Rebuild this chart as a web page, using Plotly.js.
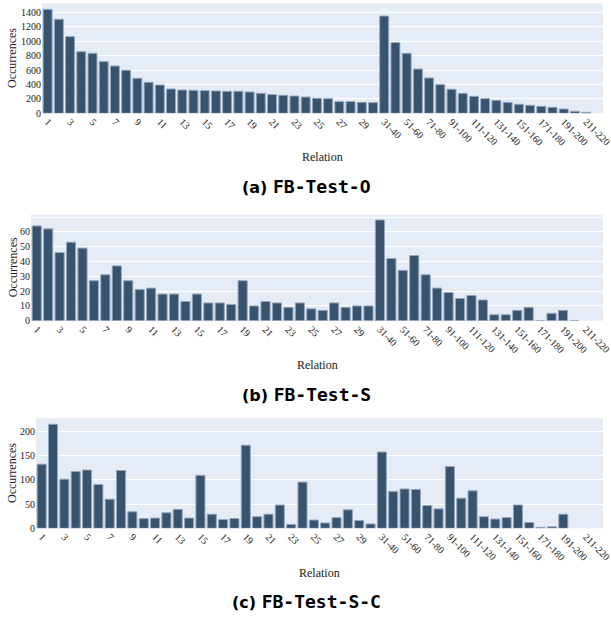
<!DOCTYPE html>
<html>
<head>
<meta charset="utf-8">
<script src="https://cdn.plot.ly/plotly-3.0.1.min.js"></script>
<style>
  html, body { margin: 0; padding: 0; background: #fff; }
  #chart { width: 611px; height: 620px; }
</style>
</head>
<body>
<div id="chart"></div>
<script>
// Relation categories (single relations 1..30, then ranges)
const categories = [
  '1','2','3','4','5','6','7','8','9','10',
  '11','12','13','14','15','16','17','18','19','20',
  '21','22','23','24','25','26','27','28','29','30',
  '31-40','41-50','51-60','61-70','71-80','81-90','91-100','101-110','111-120','121-130',
  '131-140','141-150','151-160','161-170','171-180','181-190','191-200','201-210','211-220','221-230'
];

// (a) FB-Test-O
const occurrencesO = [
  1441,1303,1063,855,832,716,656,596,485,430,
  393,337,323,319,314,310,305,305,296,277,
  259,250,240,226,208,203,162,162,152,148,
  1349,980,832,614,490,397,333,277,236,203,
  180,152,125,111,97,83,60,28,14,null
];

// (b) FB-Test-S
const occurrencesS = [
  64,62,46,53,49,27,31,37,27,21,
  22,18,18,13,18,12,12,11,27,10,
  13,12,9,12,8,7,12,9,10,10,
  68,42,34,44,31,22,19,15,17,14,
  4,4,7,9,0,5,7,0,null,null
];

// (c) FB-Test-S-C
const occurrencesSC = [
  132,214,101,117,120,90,60,119,34,20,
  21,32,39,21,109,29,18,20,171,24,
  29,48,8,95,17,11,22,38,16,9,
  157,76,81,80,47,40,127,62,77,24,
  19,22,48,12,2,3,29,null,null,null
];

const tickLabels = categories.filter((c, i) => i % 2 === 0);

// y tick values / labels per panel
const yTicksO = [0, 200, 400, 600, 800, 1000, 1200, 1400];
const yTextO  = ['0', '200', '400', '600', '800', '1000', '1200', '1400'];
const yTicksS = [0, 10, 20, 30, 40, 50, 60, 70];
const yTextS  = ['0', '10', '20', '30', '40', '50', '60', ''];
const yTicksSC = [0, 50, 100, 150, 200];
const yTextSC  = ['0', '50', '100', '150', '200'];

const yTitle = 'Occurrences';
const xTitle = 'Relation';
const captionLetters = ['(a)', '(b)', '(c)'];
const captionNames = ['FB-Test-O', 'FB-Test-S', 'FB-Test-S-C'];

const W = 611, H = 620;
const serif = 'Liberation Serif, Times New Roman, serif';
const barColor = 'rgb(55,83,109)';
const lineColor = 'rgb(150,167,189)';

// panel geometry in pixels
const panels = [
  {left: 42, right: 603, top: 3.3, bottom: 113.3, range: [0, 1525], tv: yTicksO, tt: yTextO, data: occurrencesO, titleY: 157, capY: 186},
  {left: 31, right: 603, top: 214.5, bottom: 320.7, range: [0, 71.7], tv: yTicksS, tt: yTextS, data: occurrencesS, titleY: 365, capY: 394},
  {left: 36, right: 603, top: 418.2, bottom: 528.3, range: [0, 226.5], tv: yTicksSC, tt: yTextSC, data: occurrencesSC, titleY: 573, capY: 601}
];

const traces = [];
const layout = {
  width: W, height: H,
  margin: {l: 0, r: 0, t: 0, b: 0, pad: 0},
  paper_bgcolor: '#ffffff',
  plot_bgcolor: '#E5ECF6',
  showlegend: false,
  bargap: 0.2,
  font: {family: serif, size: 10, color: '#222'},
  annotations: []
};

panels.forEach((p, k) => {
  const sfx = k === 0 ? '' : String(k + 1);
  traces.push({
    type: 'bar',
    x: categories,
    y: p.data,
    xaxis: 'x' + sfx,
    yaxis: 'y' + sfx,
    marker: {color: barColor, line: {color: lineColor, width: 1}},
    hoverinfo: 'skip'
  });
  layout['xaxis' + sfx] = {
    type: 'category',
    domain: [p.left / W, p.right / W],
    anchor: 'y' + sfx,
    categoryorder: 'array',
    categoryarray: categories,
    tickmode: 'array',
    tickvals: tickLabels,
    ticktext: tickLabels,
    tickangle: 45,
    showgrid: false,
    zeroline: false,
    showline: false,
    ticks: '',
    automargin: false,
    tickfont: {family: serif, size: 10, color: '#1a1a1a'}
  };
  layout['yaxis' + sfx] = {
    domain: [1 - p.bottom / H, 1 - p.top / H],
    anchor: 'x' + sfx,
    range: p.range,
    tickmode: 'array',
    tickvals: p.tv,
    ticktext: p.tt,
    showgrid: true,
    gridcolor: '#ffffff',
    gridwidth: 1,
    zeroline: false,
    showline: false,
    ticks: '',
    automargin: false,
    tickfont: {family: serif, size: 10, color: '#1a1a1a'}
  };
  layout.annotations.push({
    text: yTitle, xref: 'paper', yref: 'paper',
    x: 12.7 / W, y: 1 - ((p.top + p.bottom) / 2) / H,
    xanchor: 'center', yanchor: 'middle', textangle: -90, showarrow: false,
    font: {family: serif, size: 12, color: '#1a1a1a'}
  });
  layout.annotations.push({
    text: xTitle, xref: 'paper', yref: 'paper',
    x: ((p.left + p.right) / 2) / W, y: 1 - p.titleY / H,
    xanchor: 'center', yanchor: 'middle', showarrow: false,
    font: {family: serif, size: 12, color: '#1a1a1a'}
  });
  layout.annotations.push({
    text: '<b>' + captionLetters[k] + ' </b><span style="font-family:\'DejaVu Sans Mono\', monospace;font-size:18px"><b>' + captionNames[k] + '</b></span>',
    xref: 'paper', yref: 'paper',
    x: 306 / W, y: 1 - p.capY / H,
    xanchor: 'center', yanchor: 'middle', showarrow: false,
    font: {family: 'DejaVu Sans, sans-serif', size: 16, color: '#000'}
  });
});

Plotly.newPlot('chart', traces, layout, {staticPlot: true, displayModeBar: false});
</script>
</body>
</html>
